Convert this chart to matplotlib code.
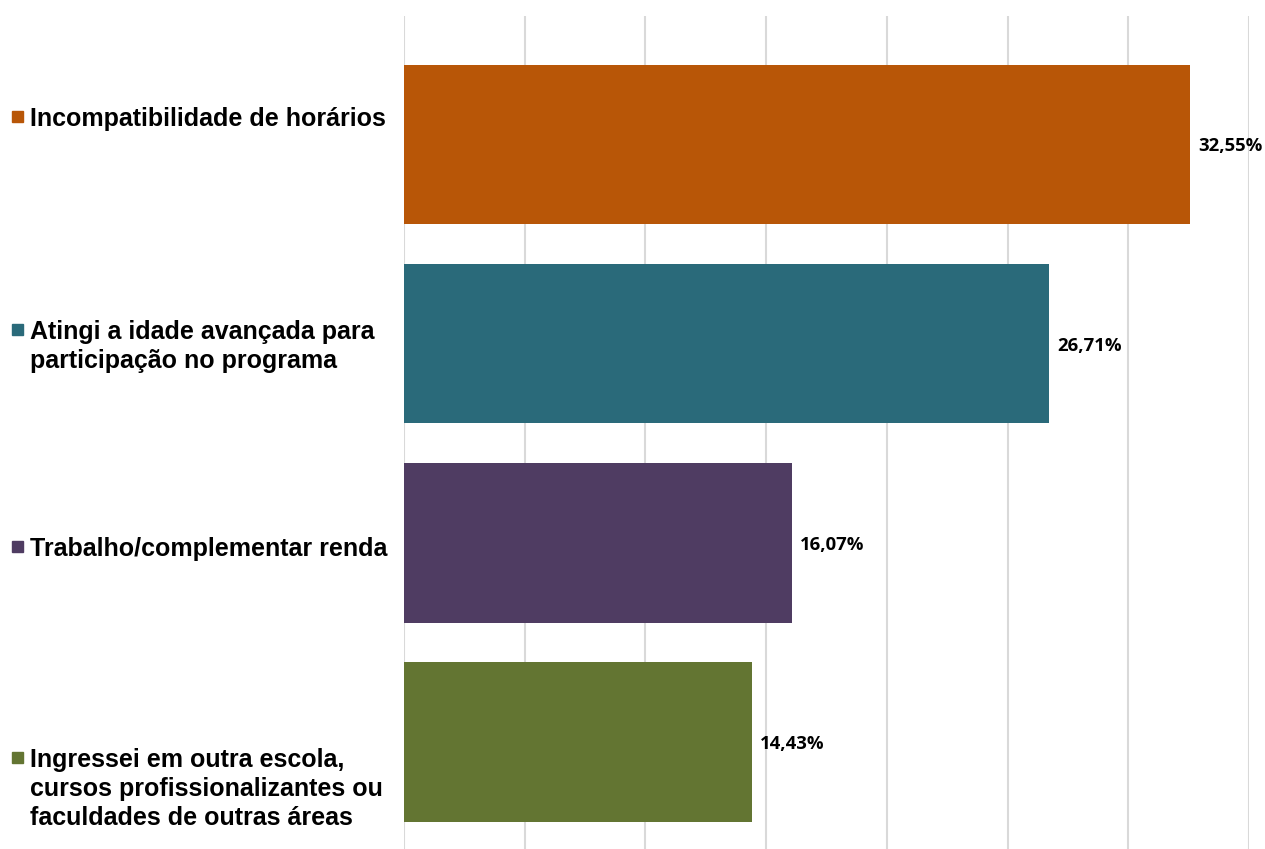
import matplotlib.pyplot as plt
from matplotlib.patches import Rectangle

# dados
categorias = ['Incompatibilidade de horários',
              'Atingi a idade avançada para\nparticipação no programa',
              'Trabalho/complementar renda',
              'Ingressei em outra escola,\ncursos profissionalizantes ou\nfaculdades de outras áreas']
valores = [32.55, 26.71, 16.07, 14.43]
rotulos = ['32,55%', '26,71%', '16,07%', '14,43%']
cores = ['#B85607', '#2A6A7A', '#4F3C62', '#637532']

W, H = 1265, 849
fig = plt.figure(figsize=(W / 100, H / 100), dpi=100)
# area do grafico em pixels: x 404..1249, y 16..849
ax = fig.add_axes([404 / W, 0, (1249 - 404) / W, (H - 16) / H])

pos = list(range(len(valores)))
ax.barh(pos, valores, height=0.8, color=cores, zorder=2)
ax.set_xlim(0, 35)
ax.set_ylim(3.537, -0.645)

ax.set_xticks(range(0, 36, 5))
ax.set_yticks([])
ax.tick_params(axis='x', length=0, labelbottom=False)
ax.grid(axis='x', color='#D9D9D9', linewidth=1.5, zorder=0)
for s in ax.spines.values():
    s.set_visible(False)

for p, v, r in zip(pos, valores, rotulos):
    ax.annotate(r, (v, p), xytext=(8, -2), textcoords='offset pixels',
                ha='left', va='center', fontsize=13.3, fontweight='bold',
                family='Open Sans', color='black')

# "legenda" a esquerda
base_txt = [125, 338, 555, 766]  # linha de base da 1a linha, em pixels
for cat, cor, b in zip(categorias, cores, base_txt):
    fig.text(30 / W, 1 - (b - 18) / H, cat, ha='left', va='top', fontsize=18,
             fontweight='bold', family='Liberation Sans', linespacing=1.27)
    fig.patches.append(Rectangle((12 / W, 1 - (b - 3) / H), 11 / W, 11 / H,
                                 transform=fig.transFigure, color=cor))

fig.savefig('out.png', dpi=100)
